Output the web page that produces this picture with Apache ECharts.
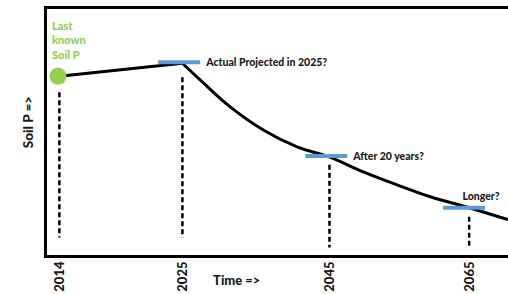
<!DOCTYPE html>
<html>
<head>
<meta charset="utf-8">
<script src="https://cdn.jsdelivr.net/npm/echarts@6/dist/echarts.min.js"></script>
<style>
  html, body { margin: 0; padding: 0; background: #fff; }
  #soil_chart { width: 508px; height: 294px; }
</style>
</head>
<body>
<div id="soil_chart"></div>
<script>
    // position along the time line (0 = left axis, 100 = right edge), the axis is not to scale
    const year_labels = ['2014', '2025', '2045', '2065']
    const year_pos = [3.0, 29.6, 61.4, 91.6]

    // soil P level, 0 = bottom axis, 100 = top line
    const known_pos = [3.0, 29.6]
    const known_val = [72.4, 77.6]
    const decline_pos = [29.6, 33.5, 40.0, 47.1, 54.4, 61.3, 68.7, 76.0, 83.2, 91.6, 100]
    const decline_val = [77.6, 70.8, 60.0, 50.8, 44.0, 40.0, 34.0, 28.8, 24.0, 19.6, 14.8]

    // dashed drop lines under each year
    const dash_top = [66.0, 72.0, 36.8, 16.0]
    const dash_bottom = [7.6, 7.6, 3.6, 3.2]

    // blue markers with their questions
    const marker_pos = [28.9, 60.7, 90.5]
    const marker_val = [78.0, 40.4, 19.6]
    const marker_text = ['Actual Projected in 2025?', 'After 20 years?', 'Longer?']

    const font_name = 'Lato'
    const font_weight = 900
    const text_color = '#1a1a1a'

    let soil_chart = echarts.init(document.getElementById('soil_chart'), null, {renderer: 'svg'})

    let dash_series = year_pos.map((p, i) => {
        return {
            type: 'line',
            data: [[p, dash_top[i]], [p, dash_bottom[i]]],
            symbol: 'none',
            silent: true,
            lineStyle: {color: '#000', width: 2.5, type: [5, 3]},
            z: 1
        }
    })

    let marker_data = marker_pos.map((p, i) => {
        let item = {value: [p, marker_val[i]], label: {formatter: marker_text[i]}}
        if (i === 2) {
            item.label.position = 'top'
            item.label.distance = 4
            item.label.offset = [17, 0]
        }
        return item
    })

    let soil_option = {
        animation: false,
        backgroundColor: '#fff',
        grid: {left: 45.5, right: 0, top: 7.5, bottom: 37.5, outerBoundsMode: 'none', containLabel: false},
        xAxis: [
            {
                type: 'value',
                min: 0,
                max: 100,
                position: 'bottom',
                splitLine: {show: false},
                axisTick: {show: false},
                axisLine: {show: true, onZero: false, lineStyle: {color: '#000', width: 3, cap: 'square'}},
                axisLabel: {
                    customValues: year_pos,
                    rotate: 90,
                    margin: 5,
                    fontFamily: font_name,
                    fontWeight: font_weight,
                    fontSize: 13,
                    color: text_color,
                    formatter: function (v) {
                        let idx = year_pos.indexOf(v)
                        return idx >= 0 ? year_labels[idx] : ''
                    }
                },
                name: 'Time =>',
                nameLocation: 'middle',
                nameGap: 17,
                nameMoveOverlap: false,
                nameTextStyle: {
                    fontFamily: font_name,
                    fontWeight: font_weight,
                    fontSize: 13,
                    color: text_color,
                    padding: [0, 80, 0, 0]
                }
            },
            {
                type: 'value',
                min: 0,
                max: 100,
                position: 'top',
                splitLine: {show: false},
                axisTick: {show: false},
                axisLabel: {show: false},
                axisLine: {show: true, onZero: false, lineStyle: {color: '#000', width: 3, cap: 'square'}}
            }
        ],
        yAxis: {
            type: 'value',
            min: 0,
            max: 100,
            splitLine: {show: false},
            axisTick: {show: false},
            axisLabel: {show: false},
            axisLine: {show: true, onZero: false, lineStyle: {color: '#000', width: 3, cap: 'square'}},
            name: 'Soil P =>',
            nameLocation: 'middle',
            nameRotate: 90,
            nameGap: 11,
            nameMoveOverlap: false,
            nameTextStyle: {
                fontFamily: font_name,
                fontWeight: font_weight,
                fontSize: 13.5,
                color: text_color,
                padding: [0, 0, 0, 20]
            }
        },
        series: dash_series.concat([
            {
                type: 'line',
                data: known_pos.map((p, i) => [p, known_val[i]]),
                symbol: 'none',
                lineStyle: {color: '#000', width: 3},
                z: 2
            },
            {
                type: 'line',
                data: decline_pos.map((p, i) => [p, decline_val[i]]),
                symbol: 'none',
                smooth: 0.4,
                lineStyle: {color: '#000', width: 3},
                z: 2
            },
            {
                type: 'scatter',
                data: marker_data,
                symbol: 'rect',
                symbolSize: [42, 4],
                itemStyle: {color: '#5b9bd5', opacity: 1},
                label: {
                    show: true,
                    position: 'right',
                    distance: 6,
                    fontFamily: font_name,
                    fontWeight: font_weight,
                    fontSize: 10.5,
                    color: text_color
                },
                z: 3
            },
            {
                type: 'scatter',
                data: [[year_pos[0] - 0.3, known_val[0]]],
                symbol: 'circle',
                symbolSize: 17,
                itemStyle: {color: '#92d050', opacity: 1},
                label: {
                    show: true,
                    position: 'top',
                    align: 'left',
                    offset: [-6, -1],
                    formatter: 'Last\nknown\nSoil P',
                    lineHeight: 14.5,
                    fontFamily: font_name,
                    fontWeight: font_weight,
                    fontSize: 11,
                    color: '#92d050'
                },
                z: 4
            }
        ])
    };

    soil_chart.setOption(soil_option);
</script>
</body>
</html>
